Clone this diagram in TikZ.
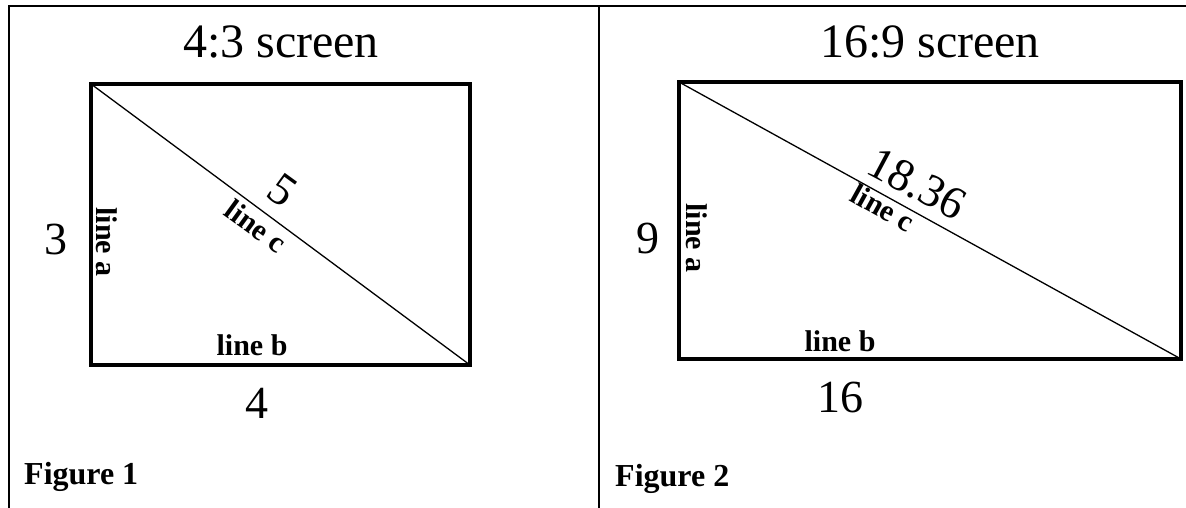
\documentclass[tikz,border=0pt]{standalone}
\usepackage{fontspec}
\setmainfont{Liberation Serif}

\begin{document}
\begin{tikzpicture}[x=1pt, y=-1pt,
  rule/.style={line width=2.5pt},
  screenbox/.style={line width=3.5pt, line join=miter},
  diag/.style={line width=1.3pt},
  hdr/.style={font=\fontsize{48}{52}\selectfont, inner sep=0pt, anchor=base},
  numlab/.style={font=\fontsize{46}{50}\selectfont, inner sep=0pt},
  sidelab/.style={font=\bfseries\fontsize{30}{32}\selectfont, inner sep=0pt},
  figlab/.style={font=\bfseries\fontsize{32}{36}\selectfont, inner sep=0pt, anchor=base west}]
\useasboundingbox (0,0) rectangle (1186,508);
% ---- table rules ----
\coordinate (tl) at (9,6);
\coordinate (tr) at (1186,6);
\coordinate (bl) at (9,508);
\coordinate (tm) at (599,6);
\coordinate (bm) at (599,508);
\draw[rule] (bl) -- (tl) -- (tr);
\draw[rule] (tm) -- (bm);
% ---- 4:3 screen ----
\coordinate (a1) at (91,84);
\coordinate (c1) at (470,365);
\draw[screenbox] (a1) rectangle (c1);
\draw[diag] (a1) -- (c1);
\node[hdr] (t1) at (281,58) {4:3 screen};
\node[numlab] (h1) at (56,239) {3};
\node[numlab] (w1) at (257,403) {4};
\node[numlab, rotate=-36] (d1) at (283,190) {5};
\node[sidelab, rotate=-90] (la1) at (107,242) {line a};
\node[sidelab, anchor=base] (lb1) at (252,355) {line b};
\node[sidelab, rotate=-36] (lc1) at (256,226) {line c};
\node[figlab] (f1) at (24,484) {Figure 1};
% ---- 16:9 screen ----
\coordinate (a2) at (679,82);
\coordinate (c2) at (1181,359);
\draw[screenbox] (a2) rectangle (c2);
\draw[diag] (a2) -- (c2);
\node[hdr] (t2) at (930,58) {16:9 screen};
\node[numlab] (h2) at (648,238) {9};
\node[numlab] (w2) at (840,397) {16};
\node[numlab, rotate=-28] (d2) at (917,184) {18.36};
\node[sidelab, rotate=-90] (la2) at (697,238) {line a};
\node[sidelab, anchor=base] (lb2) at (840,351) {line b};
\node[sidelab, rotate=-29] (lc2) at (883,208) {line c};
\node[figlab] (f2) at (615,486) {Figure 2};
\end{tikzpicture}
\end{document}
